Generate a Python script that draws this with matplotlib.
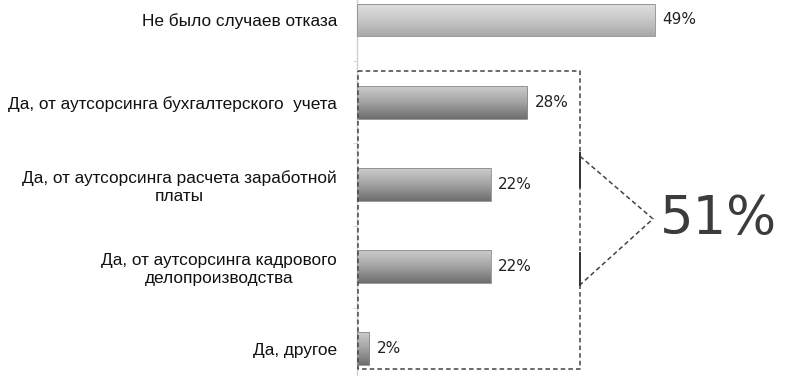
import numpy as np
import matplotlib.pyplot as plt
from matplotlib.colors import LinearSegmentedColormap
from matplotlib.ticker import FixedLocator

# Data
categories = [
    'Не было случаев отказа',
    'Да, от аутсорсинга бухгалтерского  учета',
    'Да, от аутсорсинга расчета заработной\nплаты',
    'Да, от аутсорсинга кадрового\nделопроизводства',
    'Да, другое',
]
values = [49, 28, 22, 22, 2]
group_total = '51%'

plt.rcParams['font.family'] = ['Liberation Sans', 'DejaVu Sans']

fig = plt.figure(figsize=(7.88, 3.76), dpi=100)
ax = fig.add_axes([357 / 788, 0, 1 - 357 / 788, 1])

pos = np.arange(len(values))
ax.set_xlim(0, (788 - 357) / 6.08)
ax.set_ylim(4.33, -0.243)

bars = ax.barh(pos, values, height=0.40, color='none', edgecolor='none')

# vertical gradient fill inside each bar
grad = np.linspace(0, 1, 64).reshape(-1, 1)
light = LinearSegmentedColormap.from_list('g0', ['#e0e0e0', '#c8c8c8', '#a8a8a8'])
dark = LinearSegmentedColormap.from_list('g1', ['#cccccc', '#a2a2a2', '#6e6e6e'])
for i, b in enumerate(bars):
    x0, y0 = b.get_x(), b.get_y()
    w, h = b.get_width(), b.get_height()
    im = ax.imshow(grad, cmap=light if i == 0 else dark, aspect='auto',
                   extent=(x0, x0 + w, y0 + h, y0), zorder=2, interpolation='bilinear')
    im.set_clip_path(b)
    ax.add_patch(plt.Rectangle((x0, y0), w, h, fill=False, edgecolor='#8a8a8a', lw=0.6, zorder=3))
    ax.text(x0 + w + 1.2, y0 + h / 2, f'{values[i]}%', va='center', ha='left',
            fontsize=11, color='#222222', family=['DejaVu Sans'])

# axis styling
for s in ['top', 'right', 'bottom']:
    ax.spines[s].set_visible(False)
ax.spines['left'].set_color('#d0d0d0')
ax.spines['left'].set_linewidth(1.0)
ax.set_xticks([])
ax.set_yticks(pos)
ax.set_yticklabels(categories, fontsize=12.4, color='#111111', multialignment='center')
ax.tick_params(axis='y', which='major', length=0, pad=14.4)
ax.yaxis.set_minor_locator(FixedLocator(pos[:-1] + 0.5))
ax.tick_params(axis='y', which='minor', length=3, color='#d0d0d0')

# dashed box around the "yes" group
bx1 = (580 - 357) / 6.08
by0, by1 = (71 - 20) / 82.25, (369 - 20) / 82.25
ax.plot([0.1, bx1, bx1, 0.1, 0.1], [by0, by0, by1, by1, by0], ls=(0, (3, 2)),
        color='#444444', lw=1.1, zorder=4, clip_on=False)

# bracket pointing to the total
ya, yb = (153 - 20) / 82.25, (187 - 20) / 82.25
yc, yd = (253 - 20) / 82.25, (285 - 20) / 82.25
ax.plot([bx1, bx1], [ya, yb], color='#333333', lw=1.4, zorder=5)
ax.plot([bx1, bx1], [yc, yd], color='#333333', lw=1.4, zorder=5)
tip_x, tip_y = (653 - 357) / 6.08, (219 - 20) / 82.25
ax.plot([bx1, tip_x, bx1], [ya + 0.04, tip_y, yd], ls=(0, (3, 2)), color='#444444', lw=1.1)
ax.text((660 - 357) / 6.08, tip_y, group_total, ha='left', va='center',
        fontsize=38, color='#3c3c3c', family=['DejaVu Sans'])

fig.savefig('out.png', dpi=100)
